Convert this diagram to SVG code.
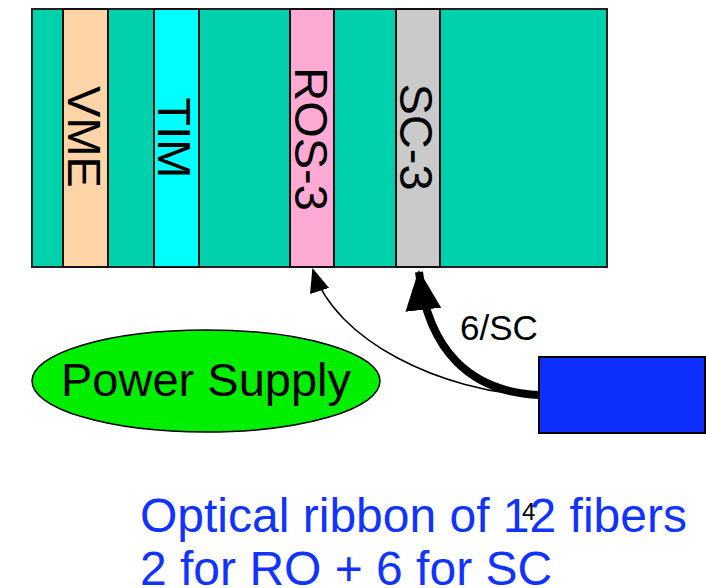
<svg xmlns="http://www.w3.org/2000/svg" width="706" height="588" viewBox="0 0 706 588">
<style>
.lbl{font-family:"Liberation Sans",Arial,sans-serif;fill:#000}
.slot{stroke:#111;stroke-width:2}
.blue{font-family:"Liberation Sans",Arial,sans-serif;fill:#1133ff;font-size:48px}
</style>
<defs>
<marker id="ahThin" markerUnits="userSpaceOnUse" markerWidth="24" markerHeight="24" viewBox="0 0 24 24" refX="22" refY="12" orient="auto">
<path d="M0,2 L24,12 L0,22 Z" fill="#000"/>
</marker>
<marker id="ahThick" markerUnits="userSpaceOnUse" markerWidth="40" markerHeight="40" viewBox="0 0 40 40" refX="38" refY="20" orient="auto">
<path d="M0,2 L40,20 L0,38 Z" fill="#000"/>
</marker>
</defs>
<g id="crate">
<rect x="32" y="9" width="575" height="258" fill="#00d1ad" stroke="#222" stroke-width="2"/>
</g>
<g id="vme">
<rect class="slot" x="63" y="9" width="45" height="258" fill="#ffd4a6"/>
<text class="lbl" font-size="47" text-anchor="middle" transform="translate(68,137) rotate(90)">VME</text>
</g>
<g id="tim">
<rect class="slot" x="154" y="9" width="45" height="258" fill="#00ffff"/>
<text class="lbl" font-size="47" text-anchor="middle" transform="translate(158,138) rotate(90)">TIM</text>
</g>
<g id="ros3">
<rect class="slot" x="290" y="9" width="44" height="258" fill="#ffaad4"/>
<text class="lbl" font-size="47" text-anchor="middle" transform="translate(295,139) rotate(90)">ROS-3</text>
</g>
<g id="sc3">
<rect class="slot" x="396" y="9" width="44" height="258" fill="#cacaca"/>
<text class="lbl" font-size="47" text-anchor="middle" transform="translate(400,137) rotate(90)">SC-3</text>
</g>
<g id="power">
<ellipse cx="206" cy="381" rx="174" ry="51" fill="#00ee00" stroke="#000" stroke-width="1.5"/>
<text class="lbl" font-size="47" x="206" y="396" text-anchor="middle">Power Supply</text>
</g>
<g id="fiberbox">
<rect x="539" y="357" width="166" height="76" fill="#0f2fff" stroke="#000" stroke-width="2"/>
</g>
<g id="connectors" fill="none" stroke="#000">
<path d="M539,396 C440,392 335,340 313,270" stroke-width="1.5" marker-end="url(#ahThin)"/>
<path d="M539,395 C470,392 428,350 419,272" stroke-width="8" marker-end="url(#ahThick)"/>
</g>
<text class="lbl" font-size="35" x="460" y="340">6/SC</text>
<g id="caption">
<text class="blue" x="140" y="532">Optical ribbon of 12 fibers</text>
<text class="blue" x="140" y="585">2 for RO + 6 for SC</text>
</g>
<text class="lbl" font-size="24" x="522" y="520">4</text>
</svg>
